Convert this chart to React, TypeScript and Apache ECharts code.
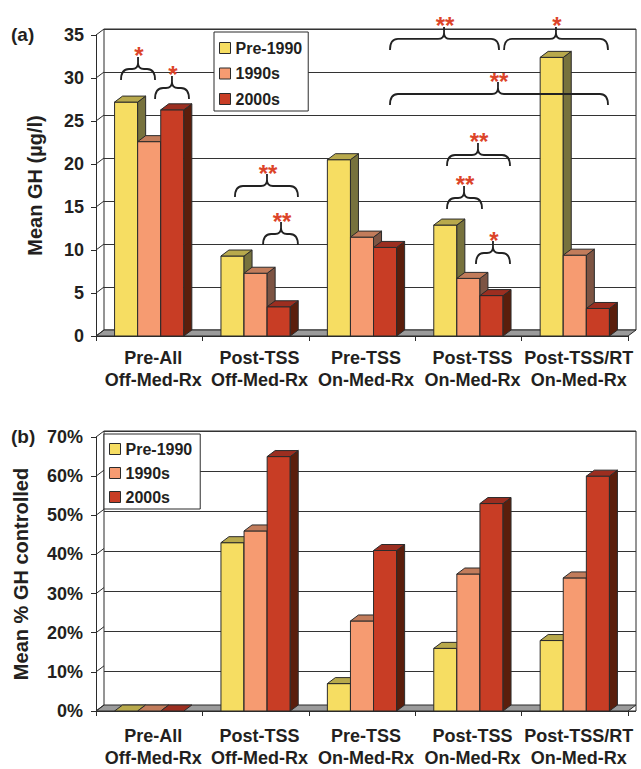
import React, { useEffect, useRef } from "react";
import * as echarts from "echarts";

const FONT = "'Liberation Sans', Arial, Helvetica, sans-serif";
const INK = "#231f20";
const STAR = "#dc4429";

const categories = [
  "Pre-All\nOff-Med-Rx",
  "Post-TSS\nOff-Med-Rx",
  "Pre-TSS\nOn-Med-Rx",
  "Post-TSS\nOn-Med-Rx",
  "Post-TSS/RT\nOn-Med-Rx",
];
const seriesNames = ["Pre-1990", "1990s", "2000s"];

// Panel (a): mean GH (µg/l)
const ghPre1990 = [27.2, 9.3, 20.5, 12.9, 32.4];
const gh1990s = [22.6, 7.3, 11.5, 6.7, 9.4];
const gh2000s = [26.3, 3.4, 10.3, 4.7, 3.2];

// Panel (b): mean % GH controlled
const ctrlPre1990 = [0, 43, 7, 16, 18];
const ctrl1990s = [0, 46, 23, 35, 34];
const ctrl2000s = [0, 65, 41, 53, 60];

const ghTicks = [0, 5, 10, 15, 20, 25, 30, 35];
const ctrlTicks = [0, 10, 20, 30, 40, 50, 60, 70];

// Significance braces in panel (a): x in category units, y = value at the brace tips
const braceLeft = [-0.265, 0.055, 0.806, 1.07, 2.799, 3.071, 2.799, 2.263, 3.335, 2.263];
const braceRight = [0.055, 0.374, 1.398, 1.398, 3.128, 3.391, 3.391, 3.288, 4.312, 4.312];
const bracePeak = [-0.105, 0.214, 1.107, 1.239, 2.959, 3.231, 3.09, 2.771, 3.823, 3.278];
const braceTipValue = [29.77, 27.56, 16.16, 10.58, 14.77, 8.37, 19.77, 33.26, 33.26, 26.86];
const braceStars = ["*", "*", "**", "**", "**", "*", "**", "**", "*", "**"];

const palette = [
  { front: "#f6dd62", top: "#b8a94c", side: "#77723d" },
  { front: "#f69b71", top: "#c27c5b", side: "#7d5443" },
  { front: "#c83d25", top: "#9c2e20", side: "#5a1e0c" },
];

const DX = 8;
const DY = 6;
const EDGE = "#2b2b2b";

function barRenderer(sIdx: number) {
  const c = palette[sIdx];
  return (params: any, api: any) => {
    const i = api.value(0);
    const v = api.value(1);
    const base = api.coord([i, 0]);
    const top = api.coord([i, v]);
    const unit = api.size([1, 0])[0];
    const bw = unit * 0.217;
    const cx = base[0] + (sIdx - 1) * bw;
    const x0 = cx - bw / 2;
    const x1 = cx + bw / 2;
    const yT = top[1];
    const yB = base[1];
    const children: any[] = [];
    if (yB - yT > 0.3) {
      children.push({
        type: "rect",
        shape: { x: x0, y: yT, width: bw, height: yB - yT },
        style: { fill: c.front, stroke: EDGE, lineWidth: 1 },
      });
      children.push({
        type: "polygon",
        shape: { points: [[x1, yT], [x1 + DX, yT - DY], [x1 + DX, yB - DY], [x1, yB]] },
        style: { fill: c.side, stroke: EDGE, lineWidth: 1 },
      });
    }
    children.push({
      type: "polygon",
      shape: { points: [[x0, yT], [x1, yT], [x1 + DX, yT - DY], [x0 + DX, yT - DY]] },
      style: { fill: c.top, stroke: EDGE, lineWidth: 1 },
    });
    return { type: "group", children };
  };
}

function floorRenderer(params: any) {
  const cs = params.coordSys;
  const x = cs.x;
  const w = cs.width;
  const yb = cs.y + cs.height;
  return {
    type: "polygon",
    shape: { points: [[x, yb], [x + w, yb], [x + w + DX, yb - DY], [x + DX, yb - DY]] },
    style: { fill: "#9b9b9b", stroke: EDGE, lineWidth: 1 },
  };
}

function wallRenderer(params: any, api: any) {
  const p = api.coord([api.value(0), api.value(1)]);
  return {
    type: "line",
    shape: { x1: p[0], y1: p[1], x2: p[0] + DX, y2: p[1] - DY },
    style: { stroke: EDGE, lineWidth: 1 },
  };
}

function braceRenderer(params: any, api: any) {
  const yv = api.value(3);
  const l = api.coord([api.value(0), yv]);
  const r = api.coord([api.value(1), yv]);
  const p = api.coord([api.value(2), yv]);
  const yb = l[1];
  const yh = yb - 11;
  const yt = yb - 23;
  const xl = l[0];
  const xr = r[0];
  const xp = p[0];
  const d =
    `M${xl},${yb} Q${xl},${yh} ${xl + 8},${yh} L${xp - 6},${yh} Q${xp},${yh} ${xp},${yh - 6} L${xp},${yt} ` +
    `M${xp},${yh - 6} Q${xp},${yh} ${xp + 6},${yh} L${xr - 8},${yh} Q${xr},${yh} ${xr},${yb}`;
  return {
    type: "group",
    children: [
      {
        type: "path",
        shape: { pathData: d },
        style: { stroke: "#222", lineWidth: 1.8, fill: "none" },
      },
      {
        type: "text",
        x: xp + 1,
        y: yt - 1,
        style: {
          text: braceStars[params.dataIndex],
          fill: STAR,
          fontSize: 24,
          fontWeight: "bold",
          fontFamily: FONT,
          align: "center",
          verticalAlign: "middle",
        },
      },
    ],
  };
}

const labelStyle = { fontFamily: FONT, fontWeight: "bold" as const, color: INK };

function frontXAxis(gridIndex: number, margin: number) {
  return {
    type: "category",
    gridIndex,
    data: categories,
    boundaryGap: true,
    axisLine: { show: true, onZero: false, lineStyle: { color: EDGE, width: 1 } },
    axisTick: { show: true, interval: 0, length: 5, lineStyle: { color: EDGE } },
    axisLabel: {
      ...labelStyle,
      interval: 0,
      fontSize: 18,
      lineHeight: 22,
      margin,
      padding: [0, 0, 0, 8],
    },
    splitLine: { show: false },
  };
}

function hiddenValueX(gridIndex: number) {
  return { type: "value", gridIndex, min: -0.5, max: 4.5, show: false, axisLine: { onZero: false } };
}

function hiddenCatX(gridIndex: number) {
  return { type: "category", gridIndex, data: categories, show: false, axisLine: { onZero: false } };
}

function frontYAxis(gridIndex: number, max: number, interval: number, name: string, gap: number, pct: boolean, margin: number) {
  return {
    type: "value",
    gridIndex,
    min: 0,
    max,
    interval,
    name,
    nameLocation: "middle",
    nameRotate: 90,
    nameGap: gap,
    nameTextStyle: { ...labelStyle, fontSize: 20 },
    axisLine: { show: true, onZero: false, lineStyle: { color: EDGE, width: 1 } },
    axisTick: { show: true, length: 5, lineStyle: { color: EDGE } },
    axisLabel: { ...labelStyle, fontSize: 18, margin, formatter: pct ? "{value}%" : "{value}" },
    splitLine: { show: false },
  };
}

function backYAxis(gridIndex: number, max: number, interval: number) {
  return {
    type: "value",
    gridIndex,
    min: 0,
    max,
    interval,
    axisLine: { show: false, onZero: false },
    axisTick: { show: false },
    axisLabel: { show: false },
    splitLine: { show: true, lineStyle: { color: "#333", width: 1.2 } },
  };
}

function legendFor(left: number, top: number, gap: number, padding: number[]) {
  return {
    data: seriesNames,
    orient: "vertical",
    left,
    top,
    icon: "rect",
    itemWidth: 11,
    itemHeight: 11,
    itemGap: gap,
    padding,
    backgroundColor: "#fff",
    borderColor: EDGE,
    borderWidth: 1,
    borderRadius: 0,
    selectedMode: false,
    itemStyle: { borderColor: EDGE, borderWidth: 1 },
    textStyle: { ...labelStyle, fontSize: 16 },
  };
}

export default function App() {
  const ref = useRef<HTMLDivElement>(null);
  useEffect(() => {
    if (!ref.current) return;
    const chart = echarts.init(ref.current, undefined, { renderer: "svg" });
    const ghData = [ghPre1990, gh1990s, gh2000s];
    const ctrlData = [ctrlPre1990, ctrl1990s, ctrl2000s];

    const series: any[] = [];
    // floors
    series.push({ type: "custom", xAxisIndex: 1, yAxisIndex: 0, data: [[0, 0]], renderItem: floorRenderer, z: 1, silent: true });
    series.push({ type: "custom", xAxisIndex: 4, yAxisIndex: 2, data: [[0, 0]], renderItem: floorRenderer, z: 1, silent: true });
    // left wall lines
    series.push({ type: "custom", xAxisIndex: 1, yAxisIndex: 0, data: ghTicks.map((t) => [-0.5, t]), renderItem: wallRenderer, z: 2, silent: true });
    series.push({ type: "custom", xAxisIndex: 4, yAxisIndex: 2, data: ctrlTicks.map((t) => [-0.5, t]), renderItem: wallRenderer, z: 2, silent: true });
    // bars
    seriesNames.forEach((name, s) => {
      series.push({
        type: "custom",
        name,
        xAxisIndex: 1,
        yAxisIndex: 0,
        data: ghData[s].map((v, i) => [i, v]),
        renderItem: barRenderer(s),
        itemStyle: { color: palette[s].front },
        z: 3,
      });
    });
    seriesNames.forEach((name, s) => {
      series.push({
        type: "custom",
        name,
        xAxisIndex: 4,
        yAxisIndex: 2,
        data: ctrlData[s].map((v, i) => [i, v]),
        renderItem: barRenderer(s),
        itemStyle: { color: palette[s].front },
        z: 3,
      });
    });
    // braces
    series.push({
      type: "custom",
      xAxisIndex: 1,
      yAxisIndex: 0,
      data: braceLeft.map((l, k) => [l, braceRight[k], bracePeak[k], braceTipValue[k]]),
      renderItem: braceRenderer,
      z: 5,
      clip: false,
      silent: true,
    });

    chart.setOption({
      animation: false,
      backgroundColor: "#fff",
      textStyle: { fontFamily: FONT },
      title: [
        { text: "(a)", left: 11, top: 25, padding: 0, textStyle: { ...labelStyle, fontSize: 19 } },
        { text: "(b)", left: 11, top: 427, padding: 0, textStyle: { ...labelStyle, fontSize: 19 } },
      ],
      legend: [legendFor(214, 32, 9.5, [8, 6, 4, 5]), legendFor(104, 434, 8, [7, 8, 4, 5])],
      grid: [
        { left: 96, top: 35, width: 532, height: 301 },
        { left: 104, top: 29, width: 532, height: 301, show: true, borderColor: EDGE, borderWidth: 1, backgroundColor: "#fff" },
        { left: 96, top: 437, width: 532, height: 280 },
        { left: 104, top: 431, width: 532, height: 280, show: true, borderColor: EDGE, borderWidth: 1, backgroundColor: "#fff" },
      ],
      xAxis: [frontXAxis(0, 11), hiddenValueX(0), hiddenCatX(1), frontXAxis(2, 14), hiddenValueX(2), hiddenCatX(3)],
      yAxis: [
        frontYAxis(0, 35, 5, "Mean GH (µg/l)", 51, false, 12),
        backYAxis(1, 35, 5),
        frontYAxis(2, 70, 10, "Mean % GH controlled", 65, true, 13),
        backYAxis(3, 70, 10),
      ],
      series,
    });
    return () => chart.dispose();
  }, []);
  return (
    <div
      ref={ref}
      style={{ position: "fixed", left: 0, top: 0, width: 641, height: 769, background: "#fff" }}
    />
  );
}
